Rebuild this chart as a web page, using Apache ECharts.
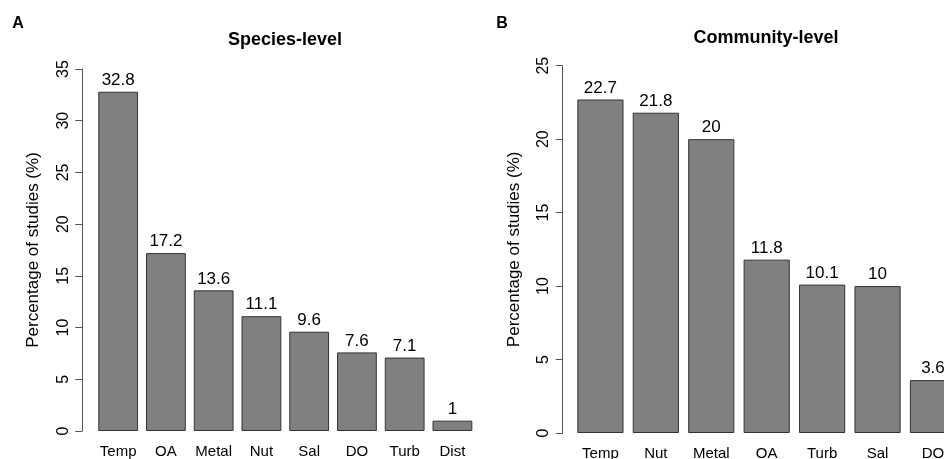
<!DOCTYPE html>
<html>
<head>
<meta charset="utf-8">
<script src="https://cdn.jsdelivr.net/npm/echarts@6/dist/echarts.min.js"></script>
<style>html,body{margin:0;padding:0;background:#fff}#c{width:944px;height:459px}</style>
</head>
<body>
<div id="c"></div>
<script>
const speciesCats = ['Temp','OA','Metal','Nut','Sal','DO','Turb','Dist'];
const speciesVals = [32.8,17.2,13.6,11.1,9.6,7.6,7.1,1];
const communityCats = ['Temp','Nut','Metal','OA','Turb','Sal','DO'];
const communityVals = [22.7,21.8,20,11.8,10.1,10,3.6];
const yName = 'Percentage of studies (%)';

const FONT = '"Liberation Sans", Arial, Helvetica, sans-serif';
const chart = echarts.init(document.getElementById('c'), null, {renderer:'canvas'});

function yAxis(grid, max, offset){
  return {
    type:'value', gridIndex:grid, min:0, max:max, interval:5, offset:offset,
    name:yName, nameLocation:'middle', nameGap:40, nameRotate:90,
    nameTextStyle:{fontFamily:FONT, fontSize:17, color:'#000'},
    axisLine:{show:true, lineStyle:{color:'#555', width:1}},
    axisTick:{show:true, length:7, lineStyle:{color:'#555', width:1}},
    axisLabel:{rotate:90, margin:11, fontFamily:FONT, fontSize:16, color:'#000'},
    splitLine:{show:false}
  };
}
function xAxis(grid, cats){
  return {
    type:'category', gridIndex:grid, data:cats,
    axisLine:{show:false}, axisTick:{show:false},
    axisLabel:{margin:13, fontFamily:FONT, fontSize:15, color:'#000', interval:0}
  };
}
function series(idx, vals){
  return {
    type:'bar', xAxisIndex:idx, yAxisIndex:idx, data:vals,
    barCategoryGap:'16.67%',
    itemStyle:{color:'#808080', borderColor:'#333', borderWidth:1},
    label:{show:true, position:'top', distance:3, fontFamily:FONT, fontSize:17, color:'#000'},
    silent:true, animation:false
  };
}

chart.setOption({
  animation:false,
  backgroundColor:'#fff',
  title:[
    {text:'Species-level', left:285, top:31, textAlign:'center', padding:0,
     textStyle:{fontFamily:FONT, fontSize:18, fontWeight:'bold', color:'#000'}},
    {text:'Community-level', left:766, top:29.5, textAlign:'center', padding:0,
     textStyle:{fontFamily:FONT, fontSize:18, fontWeight:'bold', color:'#000'}},
    {text:'A', left:18, top:16, textAlign:'center', padding:0,
     textStyle:{fontFamily:FONT, fontSize:16, fontWeight:'bold', color:'#000'}},
    {text:'B', left:502, top:16, textAlign:'center', padding:0,
     textStyle:{fontFamily:FONT, fontSize:16, fontWeight:'bold', color:'#000'}}
  ],
  grid:[
    {left:94.3, top:69, width:382, height:362, containLabel:false, outerBoundsMode:'none'},
    {left:572.7, top:65.7, width:388, height:367.3, containLabel:false, outerBoundsMode:'none'}
  ],
  xAxis:[xAxis(0, speciesCats), xAxis(1, communityCats)],
  yAxis:[yAxis(0, 35, 12), yAxis(1, 25, 10)],
  series:[series(0, speciesVals), series(1, communityVals)]
});
</script>
</body>
</html>
